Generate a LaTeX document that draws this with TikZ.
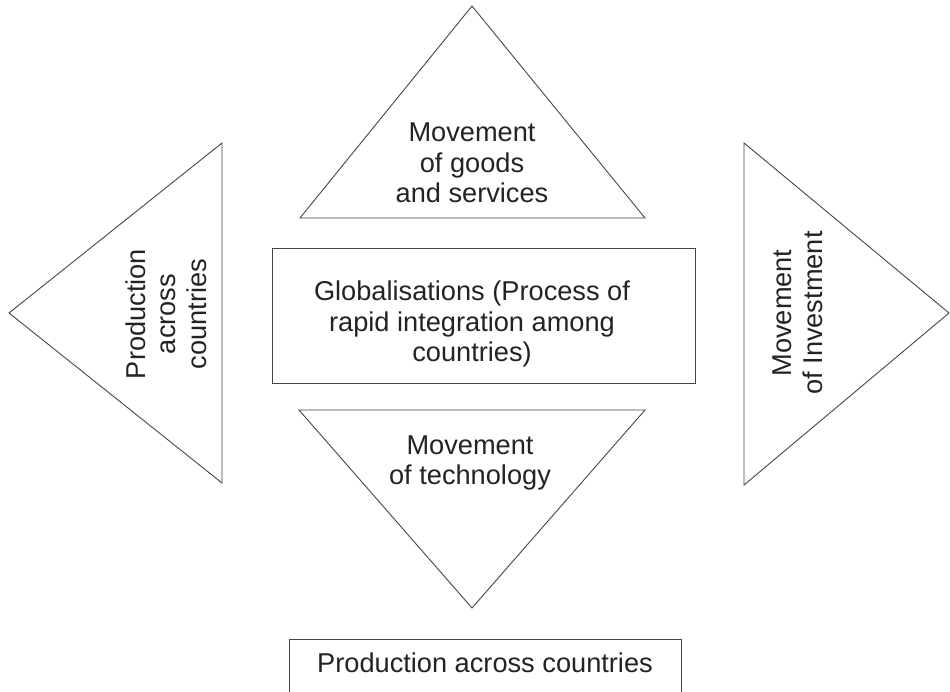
\documentclass[tikz,border=0pt]{standalone}
\usepackage{fontspec}
\setmainfont{Liberation Sans}
\usetikzlibrary{positioning}
\definecolor{linegray}{RGB}{70,70,70}
\definecolor{textgray}{RGB}{35,35,35}

\begin{document}
\begin{tikzpicture}[
    x=1pt, y=-1pt,
    outline/.style={draw=linegray, line width=0.9pt, line join=miter},
    label/.style={font=\fontsize{27.2}{30.5}\selectfont, text=textgray, align=center, inner sep=0pt}
]
\useasboundingbox (0,0) rectangle (950,692);

% ------------------ Triangles ------------------
\draw[outline] (300,218) -- (472,6) -- (645,218) -- cycle;
\node[label] (goods) at (472,163) {Movement\\of goods\\and services};

\draw[outline] (222,143) -- (9,313) -- (222,483) -- cycle;
\node[label, rotate=90] (prodleft) at (166,314) {Production\\across\\countries};

\draw[outline] (744,143) -- (949,313) -- (744,485) -- cycle;
\node[label, rotate=90] (invest) at (798,313) {Movement\\of Investment};

\draw[outline] (299,410) -- (645,410) -- (472,608) -- cycle;
\node[label] (tech) at (470,463) {Movement\\of technology};

% ------------------ Boxes ------------------
\draw[outline] (272,248) rectangle (695,383);
\node[label] (globe) at (472,324) {Globalisations (Process of\\rapid integration among\\countries)};

\draw[outline] (289,639) rectangle (681,720);
\node[label] (prodbottom) at (485,663) {Production across countries};

\end{tikzpicture}
\end{document}
